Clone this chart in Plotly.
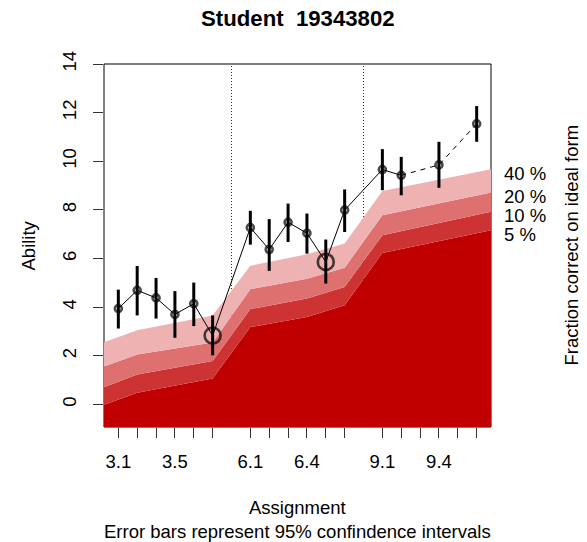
import plotly.graph_objects as go

# Assignment slots along the x axis (gaps separate the three units)
x_pos = [1, 2, 3, 4, 5, 6, 8, 9, 10, 11, 12, 13, 15, 16, 18, 20]
ability = [3.94, 4.69, 4.38, 3.70, 4.14, 2.83, 7.27, 6.37, 7.49, 7.04, 5.86, 7.99, 9.66, 9.42, 9.85, 11.54]
ci_lower = [3.12, 3.66, 3.53, 2.74, 3.22, 2.02, 6.57, 5.49, 6.68, 6.20, 4.97, 7.09, 8.81, 8.60, 8.91, 10.80]
ci_upper = [4.72, 5.69, 5.20, 4.66, 5.01, 3.66, 7.96, 7.62, 8.26, 7.85, 6.78, 8.84, 10.50, 10.18, 10.80, 12.27]
is_exam = [False, False, False, False, False, True, False, False, False, False, True, False, False, False, False, False]

# Tick marks and the labels that are printed under them
tick_pos = [1, 2, 3, 4, 5, 6, 8, 9, 10, 11, 12, 13, 15, 16, 17, 18, 19, 20]
tick_text = ["3.1", "", "", "3.5", "", "", "6.1", "", "", "6.4", "", "", "9.1", "", "", "9.4", "", ""]

# Unit boundaries
unit_breaks = [7, 14]

# Ability needed for a given fraction correct on the ideal form
x_range = [0.24, 20.76]
y_range = [-0.93, 14.0]
band_x = [0.24, 2, 6, 8, 11, 13, 15, 20.76]
band_levels = ["5 %", "10 %", "20 %", "40 %"]
band_values = [
    [-0.01, 0.48, 1.06, 3.18, 3.59, 4.08, 6.23, 7.16],
    [0.71, 1.23, 1.78, 3.92, 4.35, 4.83, 6.96, 7.92],
    [1.56, 2.05, 2.55, 4.74, 5.17, 5.62, 7.78, 8.72],
    [2.56, 3.05, 3.66, 5.70, 6.18, 6.62, 8.78, 9.67],
]
band_colors = ["#C00000", "#CE3333", "#DF7070", "#EEB2B2"]

FONT = "Liberation Sans, Arial, sans-serif"

fig = go.Figure()

# Stacked bands: a floor line, then each boundary filled down to the previous one
floor = y_range[0] - 1
fig.add_trace(go.Scatter(x=band_x, y=[floor] * len(band_x), mode="lines",
                         line=dict(width=0), hoverinfo="skip"))
for vals, col in zip(band_values, band_colors):
    fig.add_trace(go.Scatter(x=band_x, y=vals, mode="lines", line=dict(width=0),
                             fill="tonexty", fillcolor=col, hoverinfo="skip"))

# Connecting lines: solid through consecutive slots, dashed where slots are missing
solid_end = x_pos.index(16) + 1
fig.add_trace(go.Scatter(x=x_pos[:solid_end], y=ability[:solid_end], mode="lines",
                         line=dict(color="black", width=1)))
fig.add_trace(go.Scatter(x=x_pos[solid_end - 1:], y=ability[solid_end - 1:], mode="lines",
                         line=dict(color="black", width=1, dash="5px,5px")))

# Error bars (95% CI)
err_plus = [u - a for u, a in zip(ci_upper, ability)]
err_minus = [a - l for a, l in zip(ability, ci_lower)]
fig.add_trace(go.Scatter(x=x_pos, y=ability, mode="markers",
                         marker=dict(size=1, color="rgba(0,0,0,0)"),
                         error_y=dict(type="data", symmetric=False, array=err_plus,
                                      arrayminus=err_minus, color="black",
                                      thickness=3, width=0)))

# Points: small circles for assignments, large for exams
fig.add_trace(go.Scatter(
    x=x_pos, y=ability, mode="markers",
    marker=dict(symbol="circle", color="rgba(0,0,0,0)",
                size=[16 if e else 7 for e in is_exam],
                line=dict(width=2.6, color="black")),
))

shapes = []
for xb in unit_breaks:
    shapes.append(dict(type="line", xref="x", yref="paper", x0=xb, x1=xb, y0=0, y1=1,
                       line=dict(color="#333333", width=1, dash="1px,2px"), layer="below"))
shapes.append(dict(type="rect", xref="paper", yref="paper", x0=0, x1=1, y0=0, y1=1,
                   line=dict(color="black", width=1), layer="below"))

annotations = [
    dict(text="<b>Student  19343802</b>", xref="paper", yref="paper", x=0.5, y=1,
         yshift=46, showarrow=False, font=dict(size=22.2), xanchor="center", yanchor="middle"),
    dict(text="Assignment", xref="paper", yref="paper", x=0.5, y=0, yshift=-80,
         showarrow=False, xanchor="center", yanchor="middle"),
    dict(text="Error bars represent 95% confindence intervals", xref="paper", yref="paper",
         x=0.5, y=0, yshift=-104, showarrow=False, xanchor="center", yanchor="middle"),
    dict(text="Ability", xref="paper", yref="paper", x=0, y=0.5, xshift=-76,
         textangle=-90, showarrow=False, xanchor="center", yanchor="middle"),
    dict(text="Fraction correct on ideal form", xref="paper", yref="paper", x=1, y=0.5,
         xshift=80, textangle=-90, showarrow=False, xanchor="center", yanchor="middle"),
]
for lab, vals in zip(band_levels, band_values):
    annotations.append(dict(text=lab, xref="paper", yref="y", x=1, y=vals[-1], xshift=11,
                            yshift=-4, showarrow=False, xanchor="left", yanchor="middle"))

fig.update_layout(
    width=587, height=542,
    margin=dict(l=104, r=96, t=64, b=115),
    paper_bgcolor="white", plot_bgcolor="white",
    font=dict(family=FONT, size=18.5, color="black"),
    showlegend=False,
    shapes=shapes,
    annotations=annotations,
    xaxis=dict(range=x_range, tickmode="array", tickvals=tick_pos, ticktext=tick_text,
               ticks="outside", ticklen=10, tickwidth=1, tickcolor="#333333",
               showgrid=False, zeroline=False, showline=False, ticklabelstandoff=8),
    yaxis=dict(range=y_range, tickmode="array", tickvals=list(range(0, 15, 2)),
               ticks="outside", ticklen=10, tickwidth=1, tickcolor="#333333",
               tickangle=-90, showgrid=False, zeroline=False, showline=False,
               ticklabelstandoff=10),
)

fig.write_html("out.html")
